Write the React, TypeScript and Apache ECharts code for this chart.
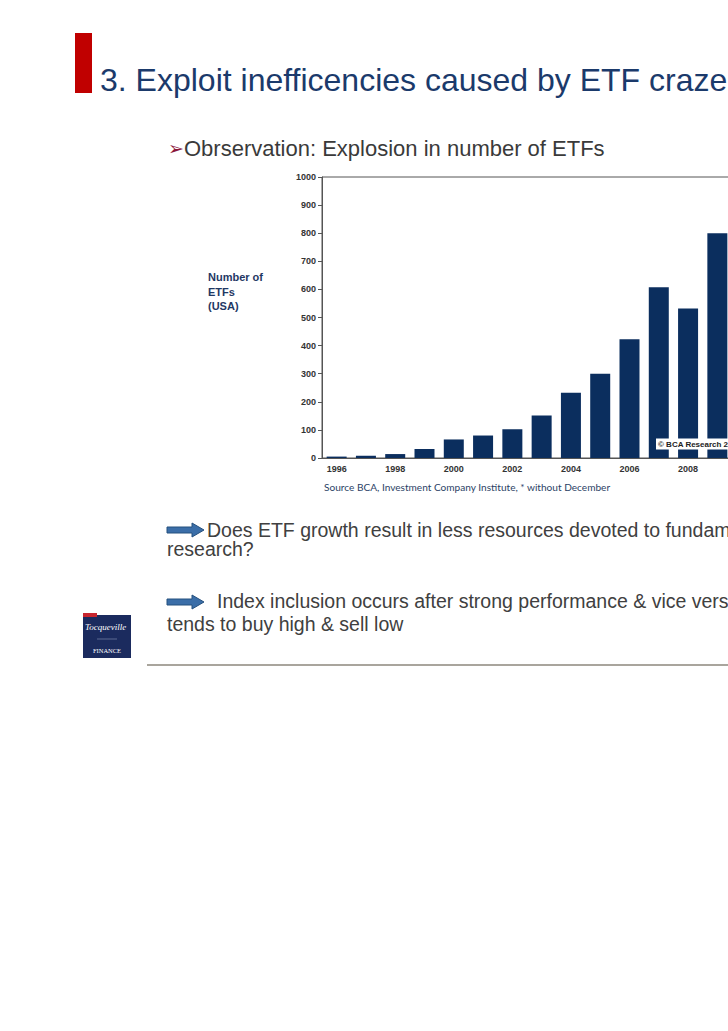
import React, { useEffect, useRef } from "react";
import * as echarts from "echarts";

const years = ["1996", "1997", "1998", "1999", "2000", "2001", "2002", "2003", "2004", "2005", "2006", "2007", "2008", "2009"];
const etfCounts = [5, 8, 14, 32, 66, 80, 102, 151, 232, 300, 423, 608, 532, 800];
const yMin = 0;
const yMax = 1000;
const yStep = 100;

const titleText = "3. Exploit inefficencies caused by ETF craze";
const observationText = "Obrservation: Explosion in number of ETFs";
const yNameText = "Number of\nETFs\n(USA)";
const sourceText = "Source BCA, Investment Company Institute, * without December";
const copyrightText = "© BCA Research 2009";
const bullet1 = ["Does ETF growth result in less resources devoted to fundamental", "research?"];
const bullet2 = ["Index inclusion occurs after strong performance & vice versa: ETF", "tends to buy high & sell low"];

const SANS = "'Liberation Sans', Arial, sans-serif";
const SERIF = "'Liberation Serif', 'DejaVu Serif', serif";

function arrow(x: number, y: number) {
  return {
    type: "polygon",
    shape: {
      points: [
        [x, y - 3],
        [x + 25, y - 3],
        [x + 25, y - 7],
        [x + 37, y],
        [x + 25, y + 7],
        [x + 25, y + 3],
        [x, y + 3],
      ],
    },
    style: { fill: "#3B6EA8", stroke: "#25507E", lineWidth: 1 },
  };
}

export default function App() {
  const ref = useRef<HTMLDivElement>(null);
  useEffect(() => {
    if (!ref.current) return;
    const chart = echarts.init(ref.current, undefined, { renderer: "svg" });
    chart.setOption({
      animation: false,
      backgroundColor: "#ffffff",
      grid: {
        left: 322,
        top: 177,
        width: 410,
        height: 281,
        show: true,
        borderColor: "#555555",
        borderWidth: 1,
        backgroundColor: "transparent",
      },
      xAxis: {
        type: "category",
        data: years,
        axisLine: { show: true, lineStyle: { color: "#555555", width: 1 } },
        axisTick: { show: false },
        axisLabel: {
          interval: 1,
          fontSize: 9,
          fontWeight: "bold",
          color: "#333333",
          fontFamily: SANS,
          margin: 6,
        },
        splitLine: { show: false },
      },
      yAxis: {
        type: "value",
        min: yMin,
        max: yMax,
        interval: yStep,
        axisLine: { show: true, lineStyle: { color: "#555555", width: 1 } },
        axisTick: { show: true, length: 4, lineStyle: { color: "#555555" } },
        axisLabel: {
          fontSize: 9,
          fontWeight: "bold",
          color: "#333333",
          fontFamily: SANS,
          margin: 6,
          formatter: (v: number) => String(v),
        },
        splitLine: { show: false },
      },
      series: [
        {
          type: "bar",
          data: etfCounts,
          barWidth: 20,
          itemStyle: { color: "#0B2E5E" },
        },
      ],
      graphic: [
        { type: "rect", shape: { x: 75, y: 33, width: 17, height: 60 }, style: { fill: "#C00000" } },
        {
          type: "text",
          x: 100,
          y: 80,
          style: {
            text: titleText,
            fontSize: 32,
            fontFamily: SANS,
            fill: "#1B3A6B",
            verticalAlign: "middle",
          },
        },
        {
          type: "text",
          x: 168,
          y: 148,
          style: { text: "➢", fontSize: 19, fontFamily: "'DejaVu Sans'", fill: "#8B1538", verticalAlign: "middle" },
        },
        {
          type: "text",
          x: 184,
          y: 148,
          style: { text: observationText, fontSize: 22, fontFamily: SANS, fill: "#3A3A3A", verticalAlign: "middle" },
        },
        {
          type: "text",
          x: 208,
          y: 270,
          style: {
            text: yNameText,
            fontSize: 11,
            fontWeight: "bold",
            fontFamily: SANS,
            fill: "#1F3864",
            lineHeight: 14.5,
            verticalAlign: "top",
          },
        },
        {
          type: "text",
          x: 324,
          y: 487,
          style: { text: sourceText, fontSize: 10.1, fontFamily: "Lato, 'Open Sans', sans-serif", fill: "#2B3F66", verticalAlign: "middle" },
        },
        {
          type: "text",
          x: 656,
          y: 444,
          z: 10,
          style: {
            text: copyrightText,
            fontSize: 8,
            fontWeight: "bold",
            fontFamily: SANS,
            fill: "#222222",
            backgroundColor: "#ffffff",
            padding: [2, 2, 1, 2],
            verticalAlign: "middle",
          },
        },
        arrow(167, 530),
        {
          type: "text",
          x: 207,
          y: 530,
          style: { text: bullet1[0], fontSize: 19.5, fontFamily: SANS, fill: "#404040", verticalAlign: "middle" },
        },
        {
          type: "text",
          x: 167,
          y: 549,
          style: { text: bullet1[1], fontSize: 19.5, fontFamily: SANS, fill: "#404040", verticalAlign: "middle" },
        },
        arrow(167, 602),
        {
          type: "text",
          x: 217,
          y: 601,
          style: { text: bullet2[0], fontSize: 19.5, fontFamily: SANS, fill: "#404040", verticalAlign: "middle" },
        },
        {
          type: "text",
          x: 167,
          y: 624,
          style: { text: bullet2[1], fontSize: 19.5, fontFamily: SANS, fill: "#404040", verticalAlign: "middle" },
        },
        // logo
        { type: "rect", shape: { x: 83, y: 615, width: 48, height: 43 }, style: { fill: "#1B2B5E" } },
        { type: "rect", shape: { x: 83, y: 613, width: 14, height: 4 }, style: { fill: "#C8262F" } },
        {
          type: "text",
          x: 85,
          y: 627,
          style: {
            text: "Tocqueville",
            fontSize: 9,
            fontStyle: "italic",
            fontFamily: SERIF,
            fill: "#ffffff",
            verticalAlign: "middle",
          },
        },
        { type: "line", shape: { x1: 97, y1: 639, x2: 117, y2: 639 }, style: { stroke: "#8C95B5", lineWidth: 0.6 } },
        {
          type: "text",
          x: 107,
          y: 650,
          style: {
            text: "FINANCE",
            fontSize: 6.5,
            fontFamily: SERIF,
            fill: "#ffffff",
            align: "center",
            verticalAlign: "middle",
          },
        },
        { type: "line", shape: { x1: 147, y1: 665, x2: 800, y2: 665 }, style: { stroke: "#A9A59D", lineWidth: 2 } },
      ],
    });
    return () => chart.dispose();
  }, []);
  return (
    <div style={{ position: "absolute", left: 0, top: 0, width: 728, height: 1031, overflow: "hidden", background: "#fff" }}>
      <div ref={ref} style={{ width: 800, height: 1031 }} />
    </div>
  );
}
